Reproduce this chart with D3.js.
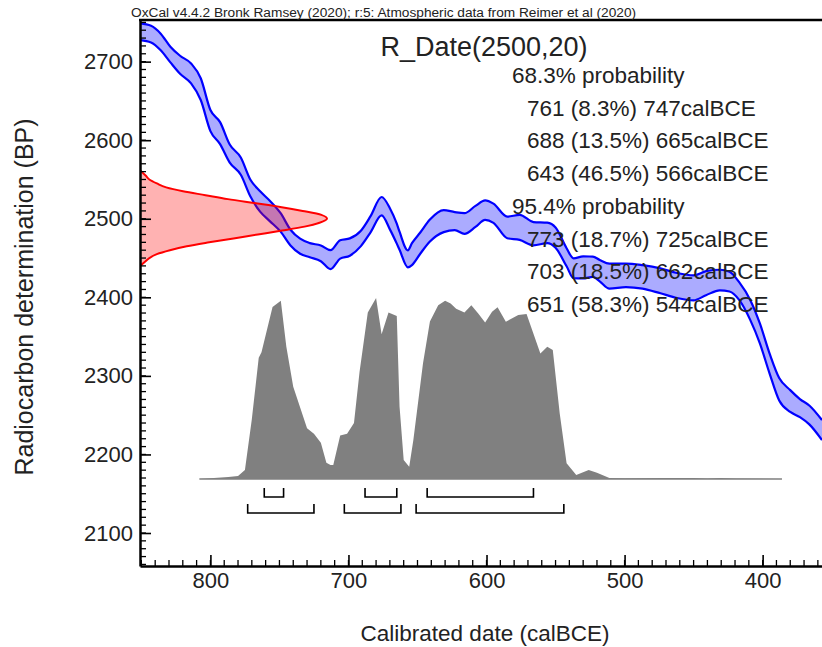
<!DOCTYPE html>
<html>
<head>
<meta charset="utf-8">
<title>R_Date(2500,20)</title>
<script src="https://d3js.org/d3.v7.min.js"></script>
<style>
  body { margin: 0; background: #fff; }
  text { font-family: "Liberation Sans", Arial, Helvetica, sans-serif; fill: #222; }
  .tick text { font-size: 22px; }
  .axis path, .axis line { stroke: #000; }
</style>
</head>
<body>
<script>
// calibration curve (IntCal20), calBCE / BP mean / 1 sigma
const curveCal = [851, 843, 836, 829, 822, 814, 807, 800, 793, 786, 778, 771, 764, 757, 749, 742, 735, 728, 720, 713,
  706, 699, 691, 684, 676, 670, 665, 663, 657, 654, 648, 641, 631, 623, 616, 608, 601, 595, 585, 576,
  566, 556, 550, 542, 537, 530, 523, 518, 511, 499, 487, 474, 462, 450, 441, 431, 424, 417, 409, 402,
  395, 388, 380, 373, 366, 357];
const curveBP = [2738, 2735, 2725, 2709, 2696, 2685, 2665, 2625, 2609, 2583, 2567, 2539, 2522, 2510, 2495, 2476, 2465, 2460, 2456, 2448,
  2461, 2464, 2475, 2493, 2516, 2500, 2481, 2472, 2449, 2455, 2469, 2485, 2497, 2497, 2494, 2503, 2511, 2507, 2489, 2489,
  2481, 2482, 2476, 2451, 2437, 2438, 2439, 2434, 2427, 2428, 2426, 2421, 2415, 2412, 2418, 2422, 2420, 2408, 2384, 2354,
  2316, 2283, 2268, 2259, 2250, 2231];
const curveErr = [10.6, 10.6, 10.6, 10, 11.5, 12.7, 13.8, 13.4, 14, 11.5, 11, 10.7, 13, 13, 11.7, 10, 9.6, 9, 10, 12,
  11.7, 11, 9.8, 10.3, 11.7, 13.5, 12.7, 11.5, 10.8, 13.9, 13.5, 14, 14, 11.5, 13.2, 13.4, 12.4, 12.2, 13.8, 15.9,
  14.8, 13, 12.9, 11.5, 12.7, 14, 12.9, 13.6, 15.9, 14.9, 14.9, 15.9, 15.9, 15.9, 15.3, 13.1, 12.6, 11.3, 12.7, 12.7,
  12.7, 14.3, 13.9, 11.5, 12, 12.7];

// measurement R_Date(2500,20)
const measBP = [2562, 2555, 2550, 2545, 2540, 2535, 2530, 2525, 2520, 2515, 2510, 2505, 2500,
  2495, 2490, 2485, 2480, 2475, 2470, 2465, 2460, 2455, 2450, 2445, 2440];
const measProb = [0, 0.03, 0.05, 0.09, 0.14, 0.23, 0.35, 0.47, 0.61, 0.75, 0.87, 0.97, 1.0,
  0.96, 0.88, 0.76, 0.63, 0.50, 0.37, 0.25, 0.16, 0.09, 0.05, 0.025, 0];

// calibrated distribution
const distCal = [808, 787, 780, 775, 770, 765, 763, 755, 749, 745, 740, 730, 725, 720, 716, 713, 711, 706, 701, 696,
  692, 686, 680, 676, 671, 665, 663, 660, 656, 653, 646, 641, 635, 630, 626, 622, 616, 611, 606, 601,
  596, 592, 586, 577, 571, 561, 556, 552, 547, 542, 535, 526, 520, 511, 500, 470, 450, 440, 430, 420, 386];
const distProb = [0, 0.011, 0.017, 0.05, 0.33, 0.67, 0.70, 0.95, 0.985, 0.73, 0.51, 0.28, 0.25, 0.20, 0.09, 0.077, 0.077, 0.24, 0.25, 0.31,
  0.59, 0.92, 1.0, 0.80, 0.92, 0.90, 0.40, 0.105, 0.068, 0.215, 0.64, 0.87, 0.96, 0.985, 0.97, 0.94, 0.92, 0.96, 0.915, 0.864,
  0.924, 0.949, 0.869, 0.906, 0.912, 0.694, 0.731, 0.713, 0.363, 0.087, 0.022, 0.05, 0.035, 0.006, 0.004, 0.006, 0.005, 0.003, 0.006, 0.003, 0];

// highest posterior density ranges
const levels = ["68.3", "95.4"];
const range68 = [[761, 747, 8.3], [688, 665, 13.5], [643, 566, 46.5]];
const range95 = [[773, 725, 18.7], [703, 662, 18.5], [651, 544, 58.3]];

const yTicks = [2100, 2200, 2300, 2400, 2500, 2600, 2700];
const xTicks = [800, 700, 600, 500, 400];
const yMinor = d3.range(2060, 2751, 10);
const xMinor = d3.range(360, 851, 10);

const width = 822, height = 647;
const m = {left: 140, top: 20, right: 822, bottom: 566};

let svg = d3.select('body').append('svg').attr('width', width).attr('height', height);

let x = d3.scaleLinear().domain([851, 357]).range([m.left, m.right]);
let y = d3.scaleLinear().domain([2753, 2058]).range([m.top, m.bottom]);
// distribution heights and measurement widths
let yd = d3.scaleLinear().domain([0, 1]).range([479, 298]);
let xm = d3.scaleLinear().domain([0, 1]).range([m.left, 327]);

svg.append('clipPath').attr('id', 'plot')
  .append('rect').attr('x', m.left).attr('y', m.top).attr('width', m.right - m.left).attr('height', m.bottom - m.top);

let plot = svg.append('g').attr('clip-path', 'url(#plot)');

// calibration curve band
let curve = curveCal.map((c, i) => ({cal: c, bp: curveBP[i], err: curveErr[i]}));
plot.append('path').datum(curve)
  .attr('d', d3.area().curve(d3.curveMonotoneX).x(d => x(d.cal)).y0(d => y(d.bp - d.err)).y1(d => y(d.bp + d.err)))
  .attr('fill', 'rgba(0,0,255,0.33)');
[1, -1].forEach(s => {
  plot.append('path').datum(curve)
    .attr('d', d3.line().curve(d3.curveMonotoneX).x(d => x(d.cal)).y(d => y(d.bp + s * d.err)))
    .attr('fill', 'none').attr('stroke', '#0000ff').attr('stroke-width', 2.2);
});

// measurement on the y axis
let meas = measBP.map((b, i) => ({bp: b, p: measProb[i]}));
plot.append('path').datum(meas)
  .attr('d', d3.area().curve(d3.curveMonotoneY).y(d => y(d.bp)).x0(m.left).x1(d => xm(d.p)))
  .attr('fill', 'rgba(255,0,0,0.3)');
plot.append('path').datum(meas)
  .attr('d', d3.line().curve(d3.curveMonotoneY).y(d => y(d.bp)).x(d => xm(d.p)))
  .attr('fill', 'none').attr('stroke', '#ff0000').attr('stroke-width', 2);

// calibrated distribution
let dist = distCal.map((c, i) => ({cal: c, p: distProb[i]}));
plot.append('path').datum(dist)
  .attr('d', d3.area().x(d => x(d.cal)).y0(yd(0)).y1(d => yd(d.p)))
  .attr('fill', '#808080');
plot.append('line')
  .attr('x1', x(distCal[0])).attr('x2', x(distCal[distCal.length - 1]))
  .attr('y1', yd(0)).attr('y2', yd(0))
  .attr('stroke', '#808080').attr('stroke-width', 1.5);

// range brackets
[[range68, 497], [range95, 513]].forEach(([ranges, by]) => {
  plot.append('g').selectAll('path').data(ranges).enter().append('path')
    .attr('d', r => `M${x(r[0])},${by - 9}V${by}H${x(r[1])}V${by - 9}`)
    .attr('fill', 'none').attr('stroke', '#000').attr('stroke-width', 1.6);
});

// minor ticks, pointing into the plot
svg.append('g').selectAll('line').data(yMinor).enter().append('line')
  .attr('x1', m.left).attr('x2', m.left + 6).attr('y1', d => y(d)).attr('y2', d => y(d))
  .attr('stroke', '#000').attr('stroke-width', 1.3);
svg.append('g').selectAll('line').data(xMinor).enter().append('line')
  .attr('y1', m.bottom).attr('y2', m.bottom - 6).attr('x1', d => x(d)).attr('x2', d => x(d))
  .attr('stroke', '#000').attr('stroke-width', 1.3);

// labelled axes
svg.append('g').attr('class', 'axis').attr('transform', `translate(${m.left},0)`)
  .call(d3.axisLeft(y).tickValues(yTicks).tickSize(-11).tickPadding(7).tickSizeOuter(0).tickFormat(d3.format('d')));
svg.append('g').attr('class', 'axis').attr('transform', `translate(0,${m.bottom})`)
  .call(d3.axisBottom(x).tickValues(xTicks).tickSize(-11).tickPadding(6).tickSizeOuter(0).tickFormat(d3.format('d')));
svg.selectAll('.axis .domain').attr('stroke-width', 2.5);
svg.selectAll('.axis .tick line').attr('stroke-width', 1.6);
svg.selectAll('.tick text').attr('fill', '#222');

svg.append('line').attr('x1', m.left - 1).attr('x2', m.right).attr('y1', m.top).attr('y2', m.top)
  .attr('stroke', '#000').attr('stroke-width', 2.5);

// texts
svg.append('text').attr('x', 131).attr('y', 17).style('font-size', '13.7px')
  .text('OxCal v4.4.2 Bronk Ramsey (2020); r:5: Atmospheric data from Reimer et al (2020)');
svg.append('text').attr('x', 484).attr('y', 56).attr('text-anchor', 'middle').style('font-size', '27px')
  .text('R_Date(2500,20)');

let lines = [];
[range68, range95].forEach((ranges, i) => {
  lines.push({t: levels[i] + '% probability', dx: 0});
  ranges.forEach(r => lines.push({t: `${r[0]} (${r[2]}%) ${r[1]}calBCE`, dx: 15}));
});
svg.append('g').selectAll('text').data(lines).enter().append('text')
  .attr('x', d => 512 + d.dx).attr('y', (d, i) => 83 + i * 32.7)
  .style('font-size', '22.5px').text(d => d.t);

svg.append('text').attr('transform', 'translate(33,297) rotate(-90)').attr('text-anchor', 'middle')
  .style('font-size', '25px').text('Radiocarbon determination (BP)');
svg.append('text').attr('x', 485).attr('y', 641).attr('text-anchor', 'middle')
  .style('font-size', '22.5px').text('Calibrated date (calBCE)');
</script>
</body>
</html>
